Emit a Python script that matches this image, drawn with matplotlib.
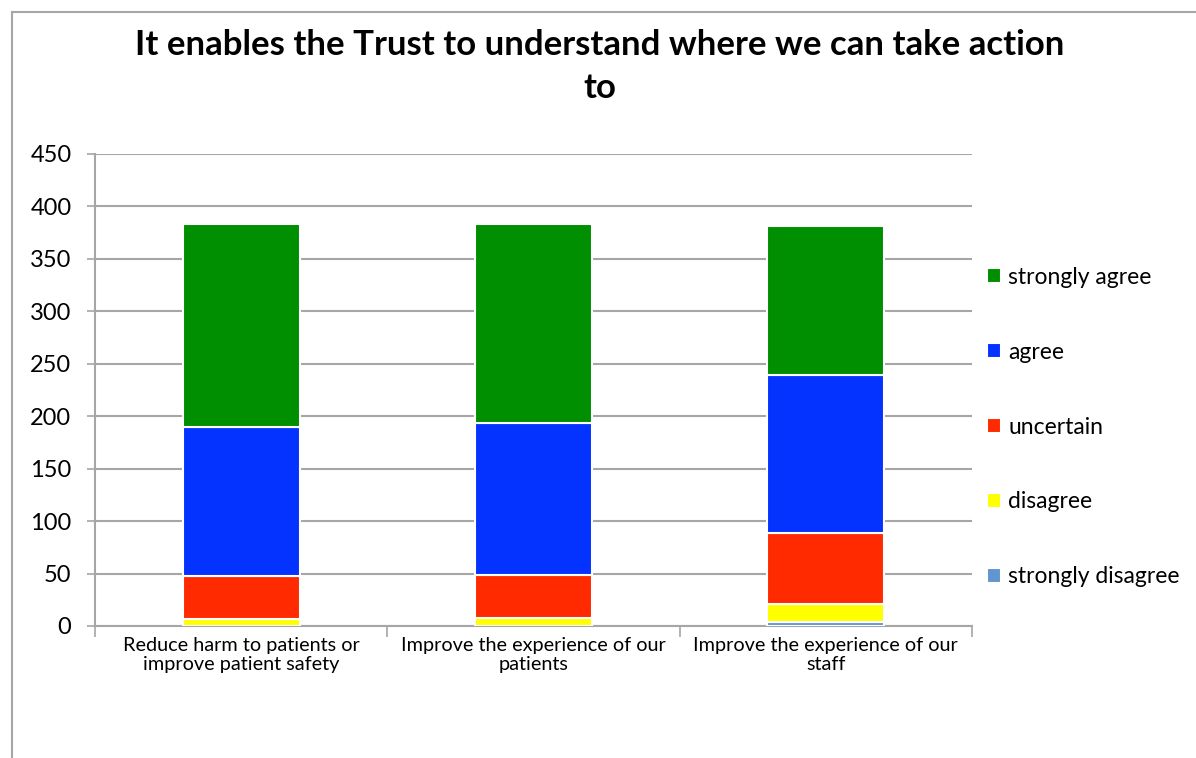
import matplotlib
matplotlib.use("Agg")
import matplotlib.pyplot as plt
from matplotlib.patches import Rectangle
import numpy as np

categories = ["Reduce harm to patients or\nimprove patient safety",
              "Improve the experience of our\npatients",
              "Improve the experience of our\nstaff"]
series_names = ["strongly disagree", "disagree", "uncertain", "agree", "strongly agree"]
strongly_disagree = [0, 0, 4]
disagree = [7, 8, 17]
uncertain = [41, 41, 68]
agree = [142, 145, 150]
strongly_agree = [193, 189, 142]
colors = ["#6195D0", "#FFFF00", "#FF2A00", "#0433FF", "#008F00"]
yticks = [0, 50, 100, 150, 200, 250, 300, 350, 400, 450]

plt.rcParams['font.family'] = ['Lato', 'DejaVu Sans']

fig = plt.figure(figsize=(11.96, 7.58), dpi=100)
ax = fig.add_axes([95/1196, 1-626/758, (972-95)/1196, (626-154)/758])

x = np.arange(len(categories))
values = [strongly_disagree, disagree, uncertain, agree, strongly_agree]
bottom = np.zeros(len(categories))
handles = []
for name, vals, c in zip(series_names, values, colors):
    vals = np.array(vals, dtype=float)
    b = ax.bar(x, vals, 0.4, bottom=bottom, color=c, edgecolor="white",
               linewidth=1.5, label=name, zorder=3)
    handles.append(b)
    bottom += vals

ax.set_xlim(-0.5, 2.5)
ax.set_ylim(0, 450)
ax.set_yticks(yticks)
ax.set_yticklabels([str(v) for v in yticks], fontsize=17)
ax.yaxis.grid(True, color="#A6A6A6", linewidth=1.5, zorder=0)
ax.set_axisbelow(True)
for s in ["top", "right"]:
    ax.spines[s].set_visible(False)
ax.spines["left"].set_color("#A6A6A6")
ax.spines["bottom"].set_color("#A6A6A6")
ax.spines["left"].set_linewidth(1.5)
ax.spines["bottom"].set_linewidth(1.5)
ax.tick_params(axis="y", length=6, color="#A6A6A6", width=1.2, pad=11)
ax.set_xticks(x)
ax.set_xticklabels(categories, fontsize=14.3, linespacing=1.15)
ax.tick_params(axis="x", length=0, pad=8)
ax.set_xticks([-0.5, 0.5, 1.5, 2.5], minor=True)
ax.tick_params(axis="x", which="minor", length=8, color="#A6A6A6", width=1.2)

leg = ax.legend(handles[::-1], series_names[::-1], loc="center left",
                bbox_to_anchor=(982/1196, 1-427/758), bbox_transform=fig.transFigure,
                frameon=False, fontsize=16.5, labelspacing=2.35,
                handlelength=0.65, handleheight=0.65, handletextpad=0.3,
                borderpad=0.2, borderaxespad=0.0)

fig.text(600/1196, 1-45/758, "It enables the Trust to understand where we can take action",
         ha="center", va="center", fontsize=25, fontweight="bold")
fig.text(600/1196, 1-88/758, "to", ha="center", va="center", fontsize=25, fontweight="bold")

fig.patches.append(Rectangle((12/1196, -0.1), 1.2, 1-12/758+0.1, transform=fig.transFigure,
                             fill=False, edgecolor="#A6A6A6", linewidth=1.5))

fig.savefig("out.png", dpi=100)
